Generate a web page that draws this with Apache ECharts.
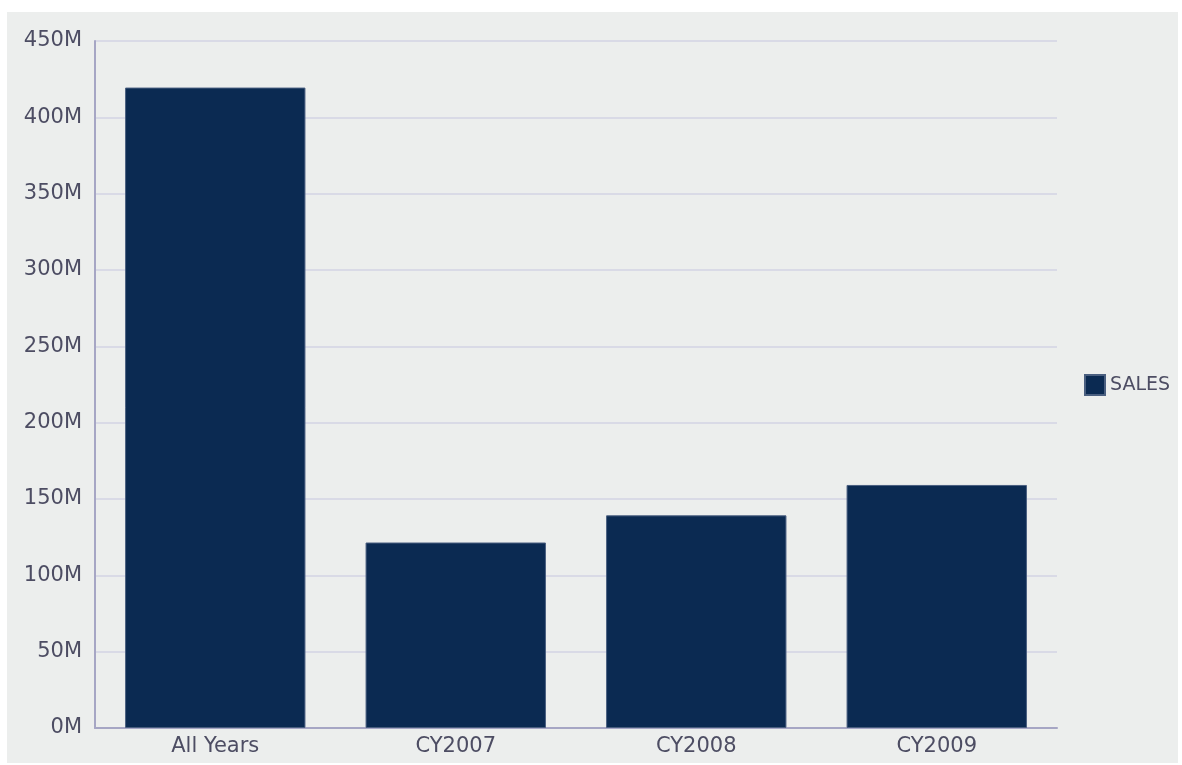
<!DOCTYPE html>
<html>
<head>
<meta charset="utf-8">
<script src="https://cdn.jsdelivr.net/npm/echarts@6/dist/echarts.min.js"></script>
<style>
html,body{margin:0;padding:0;background:#ffffff;}
#chart{position:absolute;left:7px;top:12px;width:1171px;height:751px;background:#eceeed;}
</style>
</head>
<body>
<div id="chart"></div>
<script>
var categories = ['All Years', 'CY2007', 'CY2008', 'CY2009'];
var salesValues = [419.5, 121.5, 139.3, 159.2];
var seriesName = 'SALES';
var yTicks = { min: 0, max: 450, interval: 50 };

var chart = echarts.init(document.getElementById('chart'), null, { renderer: 'canvas' });
var textColor = '#4d4d63';
chart.setOption({
  backgroundColor: '#eceeed',
  animation: false,
  textStyle: { fontFamily: 'DejaVu Sans' },
  grid: { left: 88, right: 121, top: 29, bottom: 35, containLabel: false },
  legend: {
    data: [seriesName],
    orient: 'vertical',
    left: 1077,
    top: 362,
    padding: 0,
    itemWidth: 20,
    itemHeight: 20,
    itemGap: 7,
    icon: 'rect',
    textStyle: { fontFamily: 'DejaVu Sans', fontSize: 19, color: textColor }
  },
  xAxis: {
    type: 'category',
    data: categories,
    axisLine: { show: true, lineStyle: { color: '#a6a6c4', width: 2 } },
    axisTick: { show: false },
    axisLabel: { fontFamily: 'DejaVu Sans', fontSize: 21, color: textColor, margin: 8 },
    splitLine: { show: false }
  },
  yAxis: {
    type: 'value',
    min: yTicks.min,
    max: yTicks.max,
    interval: yTicks.interval,
    axisLine: { show: true, lineStyle: { color: '#a6a6c4', width: 2 } },
    axisTick: { show: false },
    axisLabel: {
      fontFamily: 'DejaVu Sans', fontSize: 21, color: textColor, margin: 13,
      formatter: function (v) { return v + 'M'; }
    },
    splitLine: { show: true, lineStyle: { color: '#d3d3e3', width: 1.5 } }
  },
  series: [{
    name: seriesName,
    type: 'bar',
    data: salesValues,
    barWidth: '75%',
    itemStyle: { color: '#0b2a52', borderColor: '#4a5f80', borderWidth: 1 }
  }]
});
</script>
</body>
</html>
